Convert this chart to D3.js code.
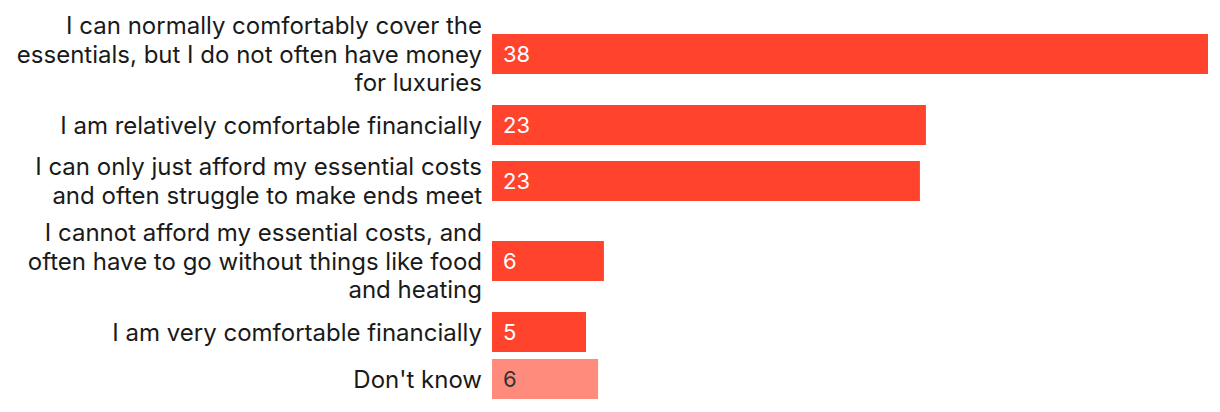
<!DOCTYPE html>
<html><head><meta charset="utf-8">
<script src="https://cdn.jsdelivr.net/npm/d3@7"></script>
<style>
html,body{margin:0;padding:0;background:#fff;}
svg{display:block;}
</style></head>
<body>
<svg id="chart" width="1220" height="412"></svg>
<script>
const categories = [
  ["I can normally comfortably cover the", "essentials, but I do not often have money", "for luxuries"],
  ["I am relatively comfortable financially"],
  ["I can only just afford my essential costs", "and often struggle to make ends meet"],
  ["I cannot afford my essential costs, and", "often have to go without things like food", "and heating"],
  ["I am very comfortable financially"],
  ["Don't know"]
];
const values = [38, 23.03, 22.71, 5.94, 4.99, 5.63];
const highlight = [true, true, true, true, true, false];

(function draw() {
  const x0 = 492, x1 = 1208;
  const lineH = 28.8, barH = 40, gap = 8, startY = 10.8;
  const fontFamily = "Inter, 'Noto Sans', sans-serif";

  const x = d3.scaleLinear().domain([0, 38]).range([x0, x1]);

  let yPos = startY;
  const rows = categories.map((lines, i) => {
    const h = Math.max(barH - 1, lines.length * lineH);
    const r = {lines, value: values[i], hi: highlight[i], h, cy: Math.round(yPos + h / 2)};
    yPos += h + gap;
    return r;
  });

  const svg = d3.select("#chart");
  const g = svg.selectAll("g.row").data(rows).join("g").attr("class", "row");

  g.append("rect")
    .attr("x", x(0))
    .attr("y", d => d.cy - barH / 2)
    .attr("width", d => x(d.value) - x(0))
    .attr("height", barH)
    .attr("fill", d => d.hi ? "#ff432c" : "#ff8b7d");

  g.append("text")
    .attr("x", x(0) + 11)
    .attr("y", d => d.cy)
    .attr("dy", "0.36em")
    .attr("font-family", fontFamily)
    .attr("font-size", 22)
    .attr("fill", d => d.hi ? "#fff" : "#333")
    .text(d => Math.round(d.value));

  g.each(function(d) {
    const t = d3.select(this).append("text")
      .attr("text-anchor", "end")
      .attr("font-family", fontFamily)
      .attr("font-size", 24)
      .attr("fill", "#1a1a1a");
    const n = d.lines.length;
    d.lines.forEach((ln, k) => {
      t.append("tspan")
        .attr("x", 482)
        .attr("y", d.cy + (k - (n - 1) / 2) * lineH)
        .attr("dy", "0.36em")
        .text(ln);
    });
  });
})();
</script>
</body></html>
